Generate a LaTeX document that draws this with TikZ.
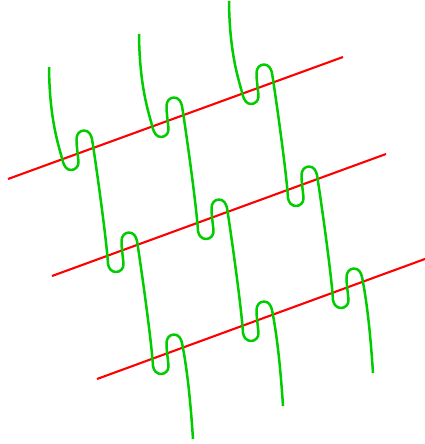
\documentclass[tikz,border=0pt]{standalone}
\usetikzlibrary{calc}
\definecolor{wgreen}{RGB}{0,204,0}
\definecolor{wred}{RGB}{255,0,0}
\tikzset{
  redline/.style={draw=wred,line width=2.1pt,line cap=butt},
  greenline/.style={draw=wgreen,line width=2.5pt,line cap=butt,line join=round}
}
\begin{document}
\begin{tikzpicture}[x=1pt,y=-1pt]
\useasboundingbox (0,0) rectangle (425,444);
% red lines
\coordinate (L1a) at (8,179);   \coordinate (L1b) at (343,57);
\coordinate (L2a) at (52,276);  \coordinate (L2b) at (386,154);
\coordinate (L3a) at (97,379);  \coordinate (L3b) at (426,258.6);
\draw[redline] (L1a) -- (L1b);
\draw[redline] (L2a) -- (L2b);
\draw[redline] (L3a) -- (L3b);
% loop lattice
\foreach \i in {0,1,2}{
  \foreach \j in {0,1,2}{
    \coordinate (B\i\j) at ({71+90*\i+45*\j},{170-33*\i+102*\j});
    \coordinate (L\i\j) at ($(B\i\j)+(-8,-8)$);
    \coordinate (P\i\j) at ($(B\i\j)+(7.5,-8)$);
    \coordinate (Q\i\j) at ($(B\i\j)+(5.5,-31)$);
    \coordinate (T\i\j) at ($(B\i\j)+(13,-39.5)$);
    \coordinate (U\i\j) at ($(B\i\j)+(21,-31)$);
    \coordinate (NL\i\j) at ($(B\i\j)+(37,94)$);
    \coordinate (NB\i\j) at ($(B\i\j)+(45,102)$);
  }
  \coordinate (S\i) at ($(B\i0)+(-22,-103)$);
  \coordinate (E\i) at ($(B\i2)+(32,65)$);
}
% green curves
\foreach \i in {0,1,2}{
  \draw[greenline] (S\i) .. controls +(0.5,55) and +(-3.5,-14) .. (L\i0)
    .. controls +(1.3,4.2) and +(-4.3,0) .. (B\i0)
    \foreach \j in {0,1}{
      .. controls +(4.3,0) and +(0.3,4.4) .. (P\i\j)
      .. controls +(-0.6,-8) and +(0,8) .. (Q\i\j)
      .. controls +(0,-4.7) and +(-4.4,0) .. (T\i\j)
      .. controls +(4.4,0) and +(-0.9,-4.6) .. (U\i\j)
      .. controls +(4,25) and +(-1.5,-25) .. (NL\i\j)
      .. controls +(0.5,4.4) and +(-4.3,0) .. (NB\i\j)
    }
    .. controls +(4.3,0) and +(0.3,4.4) .. (P\i2)
    .. controls +(-0.6,-8) and +(0,8) .. (Q\i2)
    .. controls +(0,-4.7) and +(-4.4,0) .. (T\i2)
    .. controls +(4.4,0) and +(-0.9,-4.6) .. (U\i2)
    .. controls +(6,30) and +(-2,-30) .. (E\i);
}
\end{tikzpicture}
\end{document}
